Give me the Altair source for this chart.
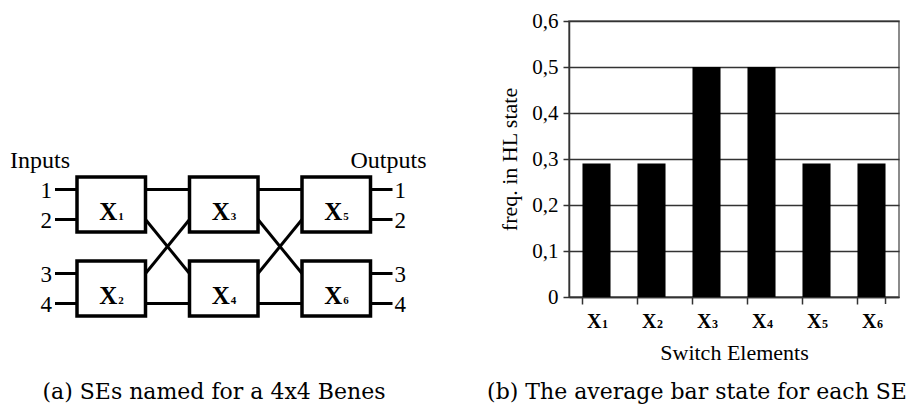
import altair as alt
import pandas as pd

# ---------------- bar chart data (panel b) ----------------
se_names = ["X1", "X2", "X3", "X4", "X5", "X6"]
se_letters = ["X", "X", "X", "X", "X", "X"]
se_digits = ["1", "2", "3", "4", "5", "6"]
hl_freq = [0.29, 0.29, 0.50, 0.50, 0.29, 0.29]
y_ticks = [0, 0.1, 0.2, 0.3, 0.4, 0.5, 0.6]

# ---------------- Benes network topology (panel a) ----------------
n_stages = 3
n_rows = 2
# links between consecutive stages: (from_row, from_port, to_row, to_port)
inter_stage_links = [(0, 0, 0, 0), (0, 1, 1, 0), (1, 0, 0, 1), (1, 1, 1, 1)]
input_labels = ["1", "2", "3", "4"]
output_labels = ["1", "2", "3", "4"]
side_titles = ["Inputs", "Outputs"]
captions = ["(a) SEs named for a 4x4 Benes", "(b) The average bar state for each SE"]

# ---------------- layout (page pixels) ----------------
PLOT_LEFT, PLOT_TOP, W = 569, 21, 330
PLOT_BOTTOM = 297
H = PLOT_BOTTOM - PLOT_TOP
SVG_BOTTOM = 408
X0, STAGE_PITCH, BOX_W = 77, 112.5, 68.5
Y0, ROW_PITCH, BOX_H = 177, 84, 55
PORT_OFF = [12.5, 42.5]
STUB = 22

SERIF = "Liberation Serif"
CAP_FONT = "DejaVu Serif"

bar_df = pd.DataFrame({"se": se_names, "letter": se_letters, "digit": se_digits, "freq": hl_freq})

band = alt.Scale(domain=se_names, paddingInner=0.49, paddingOuter=0.245)

bars = alt.Chart(bar_df).mark_bar(color="black").encode(
    x=alt.X("se:N", scale=band, sort=se_names,
            axis=alt.Axis(bandPosition=0, labels=False, tickSize=7, tickColor="#333",
                          tickWidth=1.5, domainColor="#333", domainWidth=1.5, grid=False,
                          title="Switch Elements", titleFont=SERIF, titleFontSize=22,
                          titleFontWeight="normal", titleColor="black", titlePadding=38)),
    y=alt.Y("freq:Q", scale=alt.Scale(domain=[0, 0.6], nice=False),
            axis=alt.Axis(values=y_ticks,
                          labelExpr="datum.value == 0 ? '0' : replace(format(datum.value, '.1f'), '.', ',')",
                          labelFont=SERIF, labelFontSize=21, labelColor="black", labelPadding=5,
                          tickSize=6, tickColor="#333", tickWidth=1.5,
                          domainColor="#333", domainWidth=1.5,
                          gridColor="#333", gridWidth=1.5,
                          title="freq. in HL state", titleFont=SERIF, titleFontSize=22,
                          titleFontWeight="normal", titleColor="black", titlePadding=10)),
)

LABEL_BASE = 328 - PLOT_TOP

xlab_letter = alt.Chart(bar_df).mark_text(
    align="right", baseline="alphabetic", dx=5, font=SERIF, fontSize=20, fontWeight="bold", color="black"
).encode(x=alt.X("se:N", scale=band, sort=se_names, axis=None), y=alt.value(LABEL_BASE), text="letter:N")

xlab_digit = alt.Chart(bar_df).mark_text(
    align="left", baseline="alphabetic", dx=5.5, font=SERIF, fontSize=12, fontWeight="bold", color="black"
).encode(x=alt.X("se:N", scale=band, sort=se_names, axis=None), y=alt.value(LABEL_BASE), text="digit:N")

last_tick = alt.Chart(bar_df.tail(1)).mark_rule(color="#333", strokeWidth=1.5).encode(
    x=alt.X("se:N", scale=band, sort=se_names, axis=None, bandPosition=1),
    y=alt.value(H), y2=alt.value(H + 7))

# ---------------- diagram geometry ----------------
def port_y(row, port):
    return Y0 + row * ROW_PITCH + PORT_OFF[port]

boxes = []
for s in range(n_stages):
    for r in range(n_rows):
        x = X0 + s * STAGE_PITCH
        y = Y0 + r * ROW_PITCH
        boxes.append({"x": x, "x2": x + BOX_W, "y": y, "y2": y + BOX_H,
                      "cx": x + BOX_W / 2, "cy": y + BOX_H / 2,
                      "letter": "X", "digit": str(2 * s + r + 1)})
box_df = pd.DataFrame(boxes)

wires = []
last_right = X0 + (n_stages - 1) * STAGE_PITCH + BOX_W
ins, outs = [], []
k = 0
for r in range(n_rows):
    for p in range(2):
        yy = port_y(r, p)
        wires.append({"x": X0 - STUB, "x2": X0, "y": yy, "y2": yy})
        wires.append({"x": last_right, "x2": last_right + STUB, "y": yy, "y2": yy})
        ins.append({"x": X0 - STUB - 3, "y": yy, "t": input_labels[k]})
        outs.append({"x": last_right + STUB + 2, "y": yy, "t": output_labels[k]})
        k += 1
for s in range(n_stages - 1):
    xa = X0 + s * STAGE_PITCH + BOX_W
    xb = X0 + (s + 1) * STAGE_PITCH
    for fr, fp, tr, tp in inter_stage_links:
        wires.append({"x": xa, "x2": xb, "y": port_y(fr, fp), "y2": port_y(tr, tp)})
wire_df = pd.DataFrame(wires)
in_df = pd.DataFrame(ins)
out_df = pd.DataFrame(outs)

dx_scale = alt.Scale(domain=[PLOT_LEFT, PLOT_LEFT + W], nice=False, zero=False)
dy_scale = alt.Scale(domain=[PLOT_TOP, PLOT_TOP + H], reverse=True, nice=False, zero=False)

def DX(f):
    return alt.X(f, type="quantitative", scale=dx_scale, axis=None)

def DY(f):
    return alt.Y(f, type="quantitative", scale=dy_scale, axis=None)

wire_layer = alt.Chart(wire_df).mark_rule(color="black", strokeWidth=3).encode(
    x=DX("x"), x2="x2", y=DY("y"), y2="y2")

box_layer = alt.Chart(box_df).mark_rect(fill="white", stroke="black", strokeWidth=3.5).encode(
    x=DX("x"), x2="x2", y=DY("y"), y2="y2")

box_letter = alt.Chart(box_df).mark_text(
    align="right", baseline="alphabetic", dx=6, dy=15, font=SERIF, fontSize=25, fontWeight="bold", color="black"
).encode(x=DX("cx"), y=DY("cy"), text="letter:N")

box_digit = alt.Chart(box_df).mark_text(
    align="left", baseline="alphabetic", dx=7, dy=15, font=SERIF, fontSize=11, fontWeight="bold", color="black"
).encode(x=DX("cx"), y=DY("cy"), text="digit:N")

in_layer = alt.Chart(in_df).mark_text(
    align="right", baseline="alphabetic", dy=8, font=SERIF, fontSize=23, color="black"
).encode(x=DX("x"), y=DY("y"), text="t:N")

out_layer = alt.Chart(out_df).mark_text(
    align="left", baseline="alphabetic", dy=8, font=SERIF, fontSize=23, color="black"
).encode(x=DX("x"), y=DY("y"), text="t:N")

side_df = pd.DataFrame({"x": [X0 - 67, last_right + 56], "y": [168, 168], "t": side_titles})
inputs_title = alt.Chart(side_df.head(1)).mark_text(
    align="left", baseline="alphabetic", font=SERIF, fontSize=24, color="black"
).encode(x=DX("x"), y=DY("y"), text="t:N")
outputs_title = alt.Chart(side_df.tail(1)).mark_text(
    align="right", baseline="alphabetic", font=SERIF, fontSize=24, color="black"
).encode(x=DX("x"), y=DY("y"), text="t:N")

cap_df = pd.DataFrame({"x": [214, PLOT_LEFT + W / 2 - 37], "y": [399, 399], "t": captions})
cap_layer = alt.Chart(cap_df).mark_text(
    align="center", baseline="alphabetic", font=CAP_FONT, fontSize=22, color="black"
).encode(x=DX("x"), y=DY("y"), text="t:N")

chart = alt.layer(
    bars, xlab_letter, xlab_digit, last_tick,
    wire_layer, box_layer, box_letter, box_digit, in_layer, out_layer,
    inputs_title, outputs_title, cap_layer,
).resolve_scale(x="independent", y="independent").properties(
    width=W, height=H,
    autosize=alt.AutoSizeParams(type="none"),
    padding={"left": PLOT_LEFT - 8, "top": PLOT_TOP - 8, "right": 10,
             "bottom": SVG_BOTTOM - PLOT_BOTTOM},
    background="white",
).configure_view(stroke="#666", strokeWidth=1.5)

chart.save("out.html", embed_options={"renderer": "svg", "actions": False})
